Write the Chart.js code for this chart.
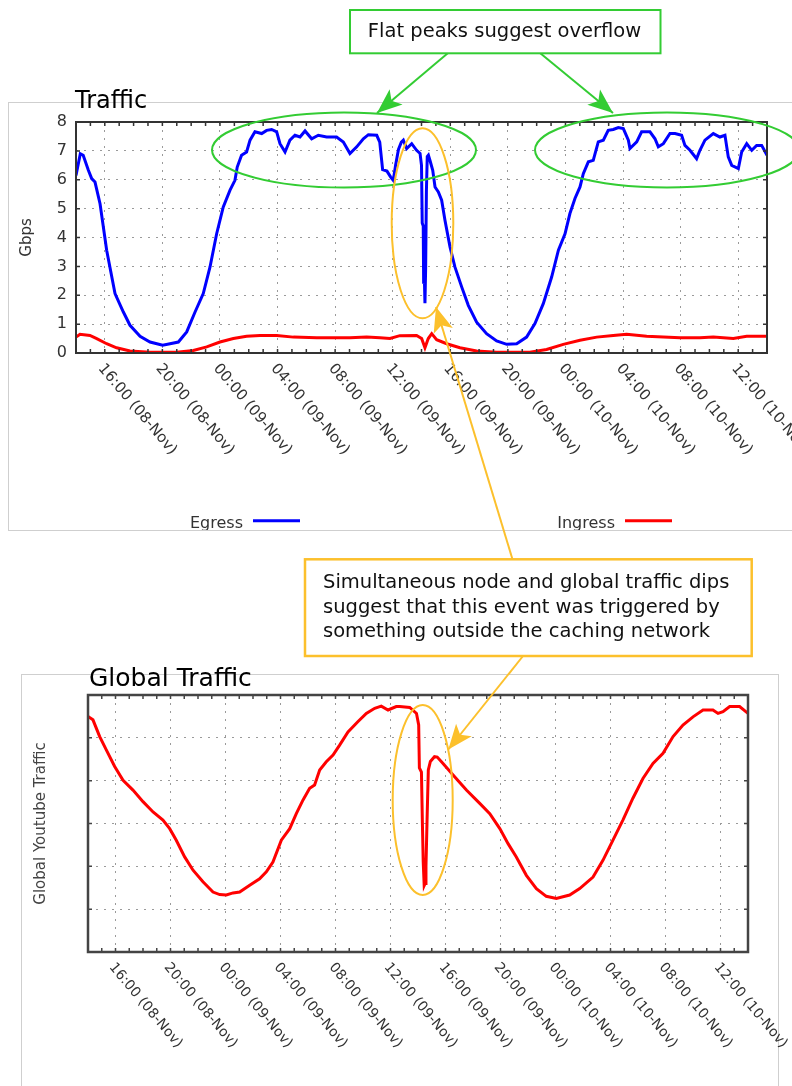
<!DOCTYPE html>
<html>
<head>
<meta charset="utf-8">
<script src="https://cdn.jsdelivr.net/npm/chart.js@4.4.0/dist/chart.umd.min.js"></script>
<style>
  html, body { margin: 0; padding: 0; background: #fff; }
  body { width: 792px; height: 1086px; position: relative; overflow: hidden; font-family: "DejaVu Sans", sans-serif; }
  .frame { position: absolute; border: 1px solid #cfcfcf; box-sizing: border-box; }
  canvas { position: absolute; left: 0; }
  #notes { position: absolute; left: 0; top: 0; }
</style>
</head>
<body>
<div class="frame" style="left:8px;top:102px;width:800px;height:429px"></div>
<div class="frame" style="left:21px;top:674px;width:758px;height:500px"></div>
<canvas id="chart-1" width="792" height="450" style="top:80px"></canvas>
<canvas id="chart-2" width="792" height="436" style="top:650px"></canvas>

<svg id="notes" width="792" height="1086" xmlns="http://www.w3.org/2000/svg" font-family="DejaVu Sans">
  <defs>
    <marker id="headG" markerUnits="userSpaceOnUse" markerWidth="30" markerHeight="26" viewBox="-27 -13 30 26" refX="0" refY="0" orient="auto">
      <path d="M0,0 L-25,-10 L-19,0 L-25,10 Z" fill="#33cc33"/>
    </marker>
    <marker id="headY" markerUnits="userSpaceOnUse" markerWidth="30" markerHeight="26" viewBox="-27 -13 30 26" refX="0" refY="0" orient="auto">
      <path d="M0,0 L-25,-10 L-19,0 L-25,10 Z" fill="#fcc02c"/>
    </marker>
  </defs>

  <text x="75" y="108" font-size="24" fill="#000">Traffic</text>
  <text x="89" y="686" font-size="25" fill="#000">Global Traffic</text>

  <!-- green notes -->
  <ellipse cx="344" cy="150" rx="132" ry="37.5" fill="none" stroke="#33cc33" stroke-width="2"/>
  <ellipse cx="667" cy="150" rx="132" ry="37.5" fill="none" stroke="#33cc33" stroke-width="2"/>
  <line x1="448" y1="53" x2="377" y2="113" stroke="#33cc33" stroke-width="2" marker-end="url(#headG)"/>
  <line x1="540" y1="53" x2="613" y2="113" stroke="#33cc33" stroke-width="2" marker-end="url(#headG)"/>
  <rect x="350" y="10" width="310.5" height="43.3" fill="#fff" stroke="#33cc33" stroke-width="2"/>
  <text x="504.5" y="37" font-size="19.5" text-anchor="middle" fill="#111">Flat peaks suggest overflow</text>

  <!-- yellow notes -->
  <ellipse cx="422.5" cy="223.3" rx="30.8" ry="95" fill="none" stroke="#fcc02c" stroke-width="2"/>
  <ellipse cx="422.7" cy="800" rx="30" ry="95" fill="none" stroke="#fcc02c" stroke-width="2"/>
  <line x1="512.4" y1="559" x2="436" y2="307" stroke="#fcc02c" stroke-width="2" marker-end="url(#headY)"/>
  <line x1="523" y1="656" x2="448.3" y2="749.5" stroke="#fcc02c" stroke-width="2" marker-end="url(#headY)"/>
  <rect x="305" y="559.3" width="446.7" height="96.7" fill="#fff" stroke="#fcc02c" stroke-width="2.5"/>
  <text x="323" y="588.3" font-size="19.5" fill="#111">Simultaneous node and global traffic dips</text>
  <text x="323" y="612.7" font-size="19.5" fill="#111">suggest that this event was triggered by</text>
  <text x="323" y="637.3" font-size="19.5" fill="#111">something outside the caching network</text>
</svg>

<script>
// hours counted from 14:00 (08-Nov)
const tickHours = [2, 6, 10, 14, 18, 22, 26, 30, 34, 38, 42, 46];
const tickLabels = ['16:00 (08-Nov)', '20:00 (08-Nov)', '00:00 (09-Nov)', '04:00 (09-Nov)',
    '08:00 (09-Nov)', '12:00 (09-Nov)', '16:00 (09-Nov)', '20:00 (09-Nov)',
    '00:00 (10-Nov)', '04:00 (10-Nov)', '08:00 (10-Nov)', '12:00 (10-Nov)'];

const egressHours = [0, 0.3, 0.5, 0.86, 1.09, 1.32, 1.67, 2.13, 2.71, 3.29, 3.75, 4.45, 5.14, 6.02, 6.53, 7.11,
    7.69, 8.27, 8.84, 9.31, 9.77, 10.23, 10.7, 11.04, 11.2, 11.5, 11.85, 12.09, 12.43, 12.9, 13.24, 13.59,
    13.94, 14.17, 14.52, 14.86, 15.21, 15.56, 15.91, 16.37, 16.83, 17.41, 18.1, 18.57, 19.03, 19.5, 19.96,
    20.31, 20.89, 21.1, 21.3, 21.6, 21.85, 22.04, 22.2, 22.4, 22.6, 22.74, 22.97, 23.32, 23.66, 23.9, 24.0,
    24.05, 24.12, 24.15, 24.2, 24.24, 24.29, 24.34, 24.4, 24.48, 24.6, 24.78, 24.94, 25.17, 25.4, 25.63,
    25.98, 26.32, 26.79, 27.25, 27.83, 28.52, 29.22, 29.92, 30.61, 31.3, 31.88, 32.46, 33.04, 33.51, 33.97,
    34.31, 34.66, 35.01, 35.24, 35.59, 35.93, 36.28, 36.63, 36.97, 37.32, 37.67, 38.02, 38.37, 38.48, 38.95,
    39.29, 39.87, 40.22, 40.45, 40.8, 41.26, 41.61, 42.07, 42.3, 42.65, 43.11, 43.34, 43.69, 44.27, 44.73,
    45.08, 45.31, 45.55, 46.01, 46.24, 46.59, 46.94, 47.28, 47.63, 48];
const egressGbps = [6.15, 6.9, 6.85, 6.33, 6.04, 5.92, 5.17, 3.56, 2.06, 1.42, 0.96, 0.58, 0.38, 0.27, 0.32, 0.38,
    0.73, 1.42, 2.06, 2.98, 4.13, 5.06, 5.64, 5.98, 6.44, 6.85, 6.96, 7.37, 7.66, 7.6, 7.71, 7.74,
    7.66, 7.25, 6.96, 7.37, 7.54, 7.48, 7.69, 7.42, 7.54, 7.48, 7.48, 7.31, 6.91, 7.14, 7.42,
    7.56, 7.54, 7.3, 6.35, 6.3, 6.1, 5.98, 6.5, 7.05, 7.3, 7.37, 7.08, 7.25, 7.02, 6.91, 6.5,
    4.5, 4.4, 2.4, 2.6, 1.72, 3.0, 5.6, 6.8, 6.85, 6.65, 6.33, 5.75, 5.58, 5.29, 4.6,
    3.67, 2.98, 2.29, 1.65, 1.07, 0.67, 0.42, 0.3, 0.32, 0.55, 1.02, 1.71, 2.63, 3.56, 4.13,
    4.83, 5.35, 5.75, 6.21, 6.62, 6.67, 7.31, 7.37, 7.71, 7.74, 7.81, 7.77, 7.37, 7.08, 7.31,
    7.66, 7.66, 7.42, 7.14, 7.25, 7.6, 7.6, 7.54, 7.19, 7.02, 6.73, 7.02, 7.37, 7.6, 7.48,
    7.54, 6.79, 6.5, 6.39, 6.96, 7.25, 7.02, 7.19, 7.19, 6.85];

const ingressHours = [0, 0.28, 0.97, 1.44, 2.13, 2.82, 3.75, 5.14, 7.0, 8.15, 9.08, 10.0, 10.93, 11.85, 12.78,
    13.94, 15.1, 16.72, 17.87, 19.03, 20.19, 21.12, 21.81, 22.5, 23.66, 24.01, 24.24, 24.47, 24.71, 25.05,
    25.75, 26.67, 27.83, 29.22, 31.53, 32.69, 33.85, 35.01, 36.17, 37.32, 38.25, 39.64, 40.8, 41.96, 43.34,
    44.27, 45.66, 46.59, 48];
const ingressGbps = [0.55, 0.65, 0.61, 0.5, 0.32, 0.18, 0.07, 0.03, 0.03, 0.09, 0.21, 0.38, 0.5, 0.58, 0.61,
    0.61, 0.55, 0.53, 0.53, 0.53, 0.55, 0.53, 0.5, 0.6, 0.61, 0.5, 0.18, 0.5, 0.67, 0.46,
    0.32, 0.18, 0.07, 0.03, 0.03, 0.12, 0.3, 0.44, 0.55, 0.61, 0.65, 0.58, 0.55, 0.53, 0.53,
    0.55, 0.5, 0.58, 0.58];

const globalHours = [0, 0.36, 0.85, 1.33, 1.94, 2.55, 3.27, 4.0, 4.73, 5.45, 5.94, 6.42, 7.03, 7.64, 8.36, 9.09,
    9.58, 10.06, 10.55, 11.03, 11.76, 12.48, 12.97, 13.45, 14.06, 14.67, 15.15, 15.64, 16.12, 16.48, 16.85,
    17.33, 17.82, 18.3, 18.91, 19.64, 20.24, 20.85, 21.33, 21.82, 22.42, 22.67, 23.4, 23.89, 24.05, 24.1,
    24.25, 24.32, 24.38, 24.45, 24.52, 24.58, 24.66, 24.75, 24.9, 25.2, 25.4, 25.82, 26.55, 27.52, 28.49,
    29.22, 29.95, 30.55, 31.15, 31.88, 32.61, 33.33, 34.06, 35.03, 35.76, 36.73, 37.45, 38.18, 38.9, 39.63,
    40.36, 41.09, 41.82, 42.55, 43.27, 44.0, 44.73, 45.45, 45.82, 46.18, 46.67, 47.39, 48];
const globalTraffic = [5.5, 5.42, 5.03, 4.72, 4.33, 4.01, 3.78, 3.51, 3.27, 3.08, 2.88, 2.61, 2.22, 1.91, 1.64, 1.4,
    1.34, 1.33, 1.38, 1.4, 1.56, 1.71, 1.87, 2.1, 2.61, 2.88, 3.23, 3.55, 3.82, 3.9, 4.25,
    4.44, 4.6, 4.83, 5.14, 5.38, 5.57, 5.69, 5.74, 5.65, 5.73, 5.73, 5.71, 5.57, 5.3, 4.3,
    4.2, 3.0, 2.1, 1.55, 1.6, 2.0, 3.1, 4.25, 4.45, 4.56, 4.55, 4.4, 4.13, 3.78, 3.47,
    3.23, 2.88, 2.53, 2.22, 1.79, 1.48, 1.3, 1.25, 1.33, 1.48, 1.75, 2.14, 2.61, 3.08, 3.59,
    4.05, 4.4, 4.64, 5.03, 5.3, 5.49, 5.65, 5.65, 5.57, 5.61, 5.73, 5.73, 5.57];

const pts = (xs, ys) => xs.map((h, i) => ({x: h, y: ys[i]}));

// gnuplot style frame: inward tick marks, solid border, slanted time labels
const frameTicks = {
    id: 'frameTicks',
    afterDraw(chart, args, opts) {
        const {ctx, chartArea: a, scales: {x, y}} = chart;
        ctx.save();
        ctx.strokeStyle = opts.color;
        ctx.lineWidth = 1.5;
        ctx.beginPath();
        for (let h = x.min + 1; h < x.max; h++) {
            const px = x.getPixelForValue(h);
            ctx.moveTo(px, a.bottom); ctx.lineTo(px, a.bottom - opts.len);
            ctx.moveTo(px, a.top); ctx.lineTo(px, a.top + opts.len);
        }
        y.ticks.forEach(t => {
            const py = y.getPixelForValue(t.value);
            ctx.moveTo(a.left, py); ctx.lineTo(a.left + opts.len, py);
            ctx.moveTo(a.right, py); ctx.lineTo(a.right - opts.len, py);
        });
        ctx.stroke();
        ctx.lineWidth = opts.width;
        ctx.strokeRect(a.left, a.top, a.right - a.left, a.bottom - a.top);

        ctx.fillStyle = '#333';
        ctx.font = opts.font;
        ctx.textAlign = 'left';
        ctx.textBaseline = 'middle';
        tickHours.forEach((h, i) => {
            ctx.save();
            ctx.translate(x.getPixelForValue(h) - 4, a.bottom + 13);
            ctx.rotate(50 * Math.PI / 180);
            ctx.fillText(tickLabels[i], 0, 0);
            ctx.restore();
        });
        ctx.restore();
    }
};

// legend with the text before the line sample
const sideLegend = {
    id: 'sideLegend',
    afterDraw(chart, args, opts) {
        const {ctx} = chart;
        ctx.save();
        ctx.font = '16px "DejaVu Sans"';
        ctx.textAlign = 'right';
        ctx.textBaseline = 'alphabetic';
        chart.data.datasets.forEach((ds, i) => {
            const xr = opts.right[i];
            ctx.fillStyle = '#333';
            ctx.fillText(ds.label, xr, opts.y);
            ctx.strokeStyle = ds.borderColor;
            ctx.lineWidth = 3;
            ctx.beginPath();
            ctx.moveTo(xr + 10, opts.y - 7.5);
            ctx.lineTo(xr + 57, opts.y - 7.5);
            ctx.stroke();
        });
        ctx.restore();
    }
};

const gridOpts = {color: '#9a9a9a', lineWidth: 1, drawTicks: false};
const borderOpts = {display: false, dash: [2, 6]};

new Chart(document.getElementById('chart-1'), {
    type: 'line',
    data: {
        datasets: [
            {
                label: 'Egress',
                data: pts(egressHours, egressGbps),
                borderColor: '#0000ff',
                borderWidth: 3,
                pointRadius: 0
            },
            {
                label: 'Ingress',
                data: pts(ingressHours, ingressGbps),
                borderColor: '#ff0000',
                borderWidth: 3,
                pointRadius: 0
            }
        ]
    },
    options: {
        responsive: false,
        animation: false,
        layout: {padding: {left: 0, top: 42, right: 25, bottom: 0}},
        plugins: {
            legend: {display: false},
            tooltip: {enabled: false},
            frameTicks: {color: '#333', len: 4, width: 2, font: '15px "DejaVu Sans"'},
            sideLegend: {right: [243, 615], y: 448.3}
        },
        scales: {
            x: {
                type: 'linear',
                min: 0,
                max: 48,
                afterBuildTicks: s => { s.ticks = tickHours.map(v => ({value: v})); },
                afterFit: s => { s.height = 177; },
                ticks: {display: false},
                grid: gridOpts,
                border: borderOpts
            },
            y: {
                min: 0,
                max: 8,
                afterFit: s => { s.width = 76; },
                ticks: {stepSize: 1, padding: 9, color: '#333', font: {family: 'DejaVu Sans', size: 16}},
                grid: gridOpts,
                border: borderOpts,
                title: {display: true, text: 'Gbps', color: '#333', font: {family: 'DejaVu Sans', size: 15}, padding: {top: 18}}
            }
        }
    },
    plugins: [frameTicks, sideLegend]
});

new Chart(document.getElementById('chart-2'), {
    type: 'line',
    data: {
        datasets: [
            {
                label: 'Global Youtube Traffic',
                data: pts(globalHours, globalTraffic),
                borderColor: '#ff0000',
                borderWidth: 3,
                pointRadius: 0
            }
        ]
    },
    options: {
        responsive: false,
        animation: false,
        layout: {padding: {left: 0, top: 45, right: 44, bottom: 0}},
        plugins: {
            legend: {display: false},
            tooltip: {enabled: false},
            frameTicks: {color: '#444', len: 4, width: 2.5, font: '14px "DejaVu Sans"'}
        },
        scales: {
            x: {
                type: 'linear',
                min: 0,
                max: 48,
                afterBuildTicks: s => { s.ticks = tickHours.map(v => ({value: v})); },
                afterFit: s => { s.height = 134; },
                ticks: {display: false},
                grid: gridOpts,
                border: borderOpts
            },
            y: {
                min: 0,
                max: 6,
                afterFit: s => { s.width = 88; },
                ticks: {display: false, stepSize: 1},
                grid: gridOpts,
                border: borderOpts,
                title: {display: true, text: 'Global Youtube Traffic', color: '#444', font: {family: 'DejaVu Sans', size: 15}, padding: {top: 32}}
            }
        }
    },
    plugins: [frameTicks]
});
</script>
</body>
</html>
